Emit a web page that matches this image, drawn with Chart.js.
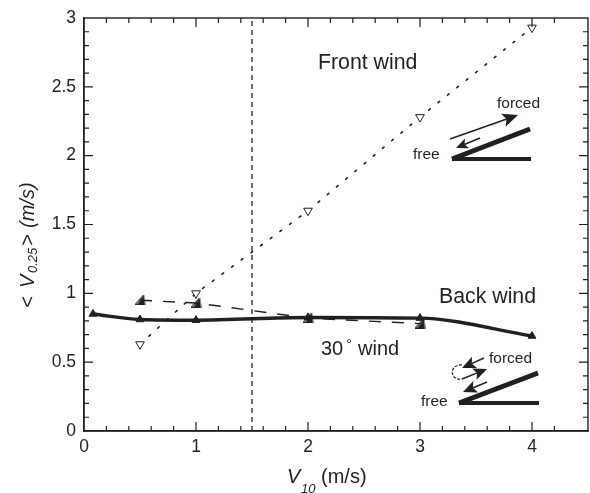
<!DOCTYPE html>
<html><head><meta charset="utf-8">
<style>html,body{margin:0;padding:0;background:#fff}canvas{display:block}</style>
<script src="https://cdn.jsdelivr.net/npm/chart.js@4"></script>
</head><body><canvas id="c" width="590" height="493"></canvas>
<script>
const backX=[0.08,0.5,1,2,3,4];
const backY=[0.85,0.81,0.805,0.825,0.82,0.69];
const sideX=[0.5,1,2,3];
const sideY=[0.95,0.93,0.82,0.78];
const frontX=[0.5,1,2,3,4];
const frontY=[0.63,1.0,1.6,2.28,2.93];
const refX=[1.5,1.5];
const refY=[0,3];
const xLabels=[0,1,2,3,4];
const yLabels=[0,0.5,1,1.5,2,2.5,3];
const ink='#231f20';
const pts=(xs,ys)=>xs.map((x,i)=>({x,y:ys[i]}));

function halfTriangle(){
  const c=document.createElement('canvas');c.width=11;c.height=10;
  const g=c.getContext('2d');
  g.strokeStyle=ink;g.fillStyle=ink;g.lineWidth=1.2;
  g.beginPath();g.moveTo(9,0.5);g.lineTo(0.5,9.5);g.lineTo(10,9.5);g.closePath();g.stroke();
  g.beginPath();g.moveTo(9.2,1);g.lineTo(2.5,9.5);g.lineTo(10,9.5);g.closePath();g.fill();
  return c;
}
function arrow(g,x1,y1,x2,y2,head,w){
  const a=Math.atan2(y2-y1,x2-x1);
  g.lineWidth=w;g.beginPath();g.moveTo(x1,y1);
  g.lineTo(x2-Math.cos(a)*head*.7,y2-Math.sin(a)*head*.7);g.stroke();
  g.beginPath();g.moveTo(x2,y2);
  g.lineTo(x2-head*Math.cos(a-.42),y2-head*Math.sin(a-.42));
  g.lineTo(x2-head*.72*Math.cos(a),y2-head*.72*Math.sin(a));
  g.lineTo(x2-head*Math.cos(a+.42),y2-head*Math.sin(a+.42));
  g.closePath();g.fill();
}
function wedge(g,x,y,tx,ty,ex){
  g.lineCap='butt';
  g.lineWidth=5;g.beginPath();g.moveTo(x,y);g.lineTo(tx,ty);g.stroke();
  g.lineWidth=4;g.beginPath();g.moveTo(x,y);g.lineTo(ex,y);g.stroke();
}
const insideTicks={id:'insideTicks',afterDraw(ch){
  const g=ch.ctx,a=ch.chartArea,sx=ch.scales.x,sy=ch.scales.y;
  g.save();g.strokeStyle=ink;g.lineWidth=1.2;g.beginPath();
  sx.ticks.forEach(t=>{
    const v=Math.round(t.value*10)/10;
    if(v<=0||v>=4.5)return;
    const p=sx.getPixelForValue(t.value),l=Number.isInteger(v)?9:5;
    g.moveTo(p,a.bottom);g.lineTo(p,a.bottom-l);
    g.moveTo(p,a.top);g.lineTo(p,a.top+l);
  });
  sy.ticks.forEach(t=>{
    const v=Math.round(t.value*10)/10;
    if(v<=0||v>=3)return;
    const p=sy.getPixelForValue(t.value),l=yLabels.includes(v)?9:5;
    g.moveTo(a.left,p);g.lineTo(a.left+l,p);
    g.moveTo(a.right,p);g.lineTo(a.right-l,p);
  });
  g.stroke();g.restore();
}};
const notes={id:'notes',afterDraw(ch){
  const g=ch.ctx;
  g.save();g.fillStyle=ink;g.strokeStyle=ink;g.textBaseline='alphabetic';
  const T=(s,x,y,f)=>{g.font=f;g.fillText(s,x,y);};
  const R='20px "Liberation Sans"',L='21.3px "Liberation Sans"',I='italic 20px "Liberation Sans"',S='italic 13px "Liberation Sans"',M='15.5px "Liberation Sans"';
  T('Front wind',318,69,L);
  T('Back wind',439,303,L);
  T('30',321,355,R);
  T('°',346,349,'15px "Liberation Sans"');
  T('wind',358,355,R);
  T('forced',497,108,M);
  T('free',413,159,M);
  T('forced',489,363,M);
  T('free',421,406,M);
  // x axis title
  T('V',287,483,I);
  T('10',301,493,S);
  T('(m/s)',321,483,R);
  // y axis title
  g.save();g.translate(34,308);g.rotate(-Math.PI/2);
  T('<',0,0,I);
  T('V',20,0,I);
  T('0.25',35,3,S);
  T('>',62,0,I);
  T('(m/s)',80,0,I);
  g.restore();
  // front-wind sketch
  wedge(g,452,159,530,129,531);
  arrow(g,450,139,518,115,17,1.5);
  arrow(g,480,138,456,148,13,1.5);
  // back-wind sketch
  wedge(g,459,403,538,373,539);
  arrow(g,484,358,462,368,15,1.5);
  arrow(g,462,379,487,369,15,1.5);
  arrow(g,487,382,463,392,15,1.5);
  g.lineWidth=1.2;g.setLineDash([3,1.5]);g.beginPath();
  g.moveTo(462,365);g.bezierCurveTo(449,364,449,381,462,379);g.stroke();
  g.restore();
}};
new Chart(document.getElementById('c'),{
  type:'line',
  data:{datasets:[
    {data:pts(refX,refY),borderColor:ink,borderWidth:1.3,borderDash:[5,4],pointRadius:0},
    {data:pts(frontX,frontY),borderColor:ink,borderWidth:1.6,borderDash:[2,10],borderCapStyle:'round',
     pointStyle:'triangle',rotation:180,pointRadius:5,pointBackgroundColor:'#fff',pointBorderColor:ink,pointBorderWidth:1},
    {data:pts(sideX,sideY),borderColor:ink,borderWidth:1.4,borderDash:[12,11],
     pointStyle:halfTriangle(),pointRadius:5},
    {data:pts(backX,backY),borderColor:ink,borderWidth:3.4,cubicInterpolationMode:'monotone',
     pointStyle:'triangle',pointRadius:4.5,pointBackgroundColor:ink,pointBorderColor:ink,pointBorderWidth:1}
  ]},
  options:{
    responsive:false,animation:false,parsing:false,
    layout:{autoPadding:false,padding:{top:18,right:2,left:0,bottom:0}},
    plugins:{legend:{display:false},tooltip:{enabled:false}},
    scales:{
      x:{type:'linear',min:0,max:4.5,
        afterFit:s=>{s.height=62;s.paddingRight=0;s.paddingLeft=0;},
        border:{color:ink,width:1.4},
        grid:{display:false,drawTicks:false},
        ticks:{stepSize:0.2,autoSkip:false,maxRotation:0,color:ink,padding:6,
          font:{family:'"Liberation Sans"',size:17.5},
          callback:v=>{const r=Math.round(v*10)/10;return xLabels.includes(r)?String(r):'';}}},
      y:{type:'linear',min:0,max:3,
        afterFit:s=>{s.width=84;s.paddingTop=0;s.paddingBottom=0;},
        border:{color:ink,width:1.4},
        grid:{display:false,drawTicks:false},
        ticks:{stepSize:0.1,autoSkip:false,color:ink,padding:8,
          font:{family:'"Liberation Sans"',size:17.5},
          callback:v=>{const r=Math.round(v*10)/10;return yLabels.includes(r)?String(r):'';}}}
    }
  },
  plugins:[insideTicks,notes,{id:'frame',afterDraw(ch){const g=ch.ctx,a=ch.chartArea;g.save();g.strokeStyle=ink;g.lineWidth=1.4;g.strokeRect(a.left,a.top,a.right-a.left,a.bottom-a.top);g.restore();}}]
});
</script></body></html>
